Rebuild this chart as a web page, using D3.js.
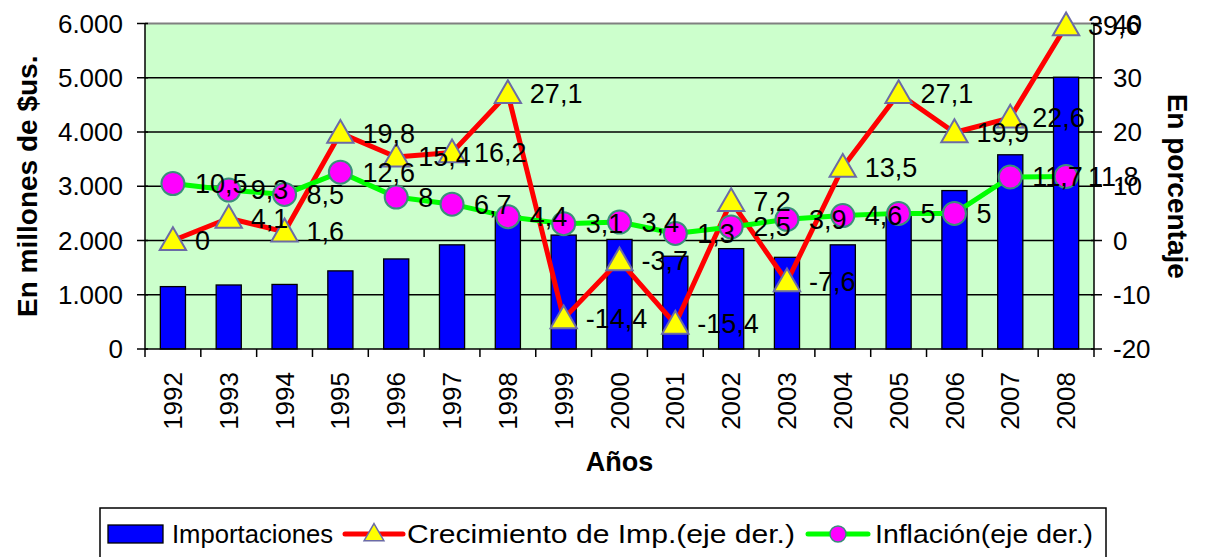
<!DOCTYPE html>
<html>
<head>
<meta charset="utf-8">
<script src="https://cdn.jsdelivr.net/npm/d3@7"></script>
<style>
  body { margin: 0; background: #fff; }
  svg { display: block; font-family: "Liberation Sans", Arial, sans-serif; }
</style>
</head>
<body>
<div id="vis"></div>
<script>
// chart data
const years = ["1992", "1993", "1994", "1995", "1996", "1997", "1998", "1999", "2000",
  "2001", "2002", "2003", "2004", "2005", "2006", "2007", "2008"];
const importaciones = [1150, 1180, 1190, 1440, 1660, 1920, 2450, 2100, 2020,
  1710, 1850, 1690, 1920, 2440, 2920, 3580, 5010];
const crecimiento = [0, 4.1, 1.6, 19.8, 15.4, 16.2, 27.1, -14.4, -3.7,
  -15.4, 7.2, -7.6, 13.5, 27.1, 19.9, 22.6, 39.6];
const inflacion = [10.5, 9.3, 8.5, 12.6, 8, 6.7, 4.4, 3.1, 3.4,
  1.3, 2.5, 3.9, 4.6, 5, 5, 11.7, 11.8];
const leftTicks = [0, 1000, 2000, 3000, 4000, 5000, 6000];
const rightTicks = [-20, -10, 0, 10, 20, 30, 40];
const legendNames = ["Importaciones", "Crecimiento de Imp.(eje der.)", "Inflación(eje der.)"];

const width = 1206, height = 557;
const plot = { left: 145, right: 1094, top: 23.5, bottom: 349 };

const es = d3.formatLocale({ decimal: ",", thousands: ".", grouping: [3], currency: ["$", ""] });
const fmtThousands = es.format(",d");
const fmtLabel = v => String(v).replace(".", ",");

const svg = d3.select("#vis").append("svg")
  .attr("width", width)
  .attr("height", height);

svg.append("rect").attr("width", width).attr("height", height).attr("fill", "#fff");

const x = d3.scaleBand().domain(years).range([plot.left, plot.right]).paddingInner(0).paddingOuter(0);
const yLeft = d3.scaleLinear().domain([0, 6000]).range([plot.bottom, plot.top]);
const yRight = d3.scaleLinear().domain([-20, 40]).range([plot.bottom, plot.top]);
const cx = d => x(d) + x.bandwidth() / 2;

// plot background
svg.append("rect")
  .attr("x", plot.left).attr("y", plot.top)
  .attr("width", plot.right - plot.left).attr("height", plot.bottom - plot.top)
  .attr("fill", "#CCFFCC");

// gridlines
svg.append("g").selectAll("line")
  .data(leftTicks.filter(t => t > 0 && t < 6000))
  .join("line")
  .attr("x1", plot.left).attr("x2", plot.right)
  .attr("y1", d => yLeft(d)).attr("y2", d => yLeft(d))
  .attr("stroke", "#000").attr("stroke-width", 1.3);

// top border
svg.append("line")
  .attr("x1", plot.left).attr("x2", plot.right)
  .attr("y1", plot.top).attr("y2", plot.top)
  .attr("stroke", "#808080").attr("stroke-width", 2);

// bars
const barW = x.bandwidth() * 0.45;
svg.append("g").selectAll("rect")
  .data(years)
  .join("rect")
  .attr("x", d => cx(d) - barW / 2)
  .attr("width", barW)
  .attr("y", (d, i) => yLeft(importaciones[i]))
  .attr("height", (d, i) => plot.bottom - yLeft(importaciones[i]))
  .attr("fill", "#0000FF")
  .attr("stroke", "#000").attr("stroke-width", 1.3);

// axes lines
const axisG = svg.append("g").attr("stroke", "#000").attr("stroke-width", 1.5);
axisG.append("line").attr("x1", plot.left).attr("x2", plot.left).attr("y1", plot.top).attr("y2", plot.bottom);
axisG.append("line").attr("x1", plot.right).attr("x2", plot.right).attr("y1", plot.top).attr("y2", plot.bottom);
axisG.append("line").attr("x1", plot.left).attr("x2", plot.right).attr("y1", plot.bottom).attr("y2", plot.bottom);

axisG.selectAll(".lt").data(leftTicks).join("line")
  .attr("x1", plot.left - 8).attr("x2", plot.left + 3)
  .attr("y1", d => yLeft(d)).attr("y2", d => yLeft(d));
axisG.selectAll(".rt").data(rightTicks).join("line")
  .attr("x1", plot.right - 3).attr("x2", plot.right + 8)
  .attr("y1", d => yRight(d)).attr("y2", d => yRight(d));
const bounds = years.map(d => x(d)).concat([plot.right]);
axisG.selectAll(".bt").data(bounds).join("line")
  .attr("x1", d => d).attr("x2", d => d)
  .attr("y1", plot.bottom).attr("y2", plot.bottom + 8);

// tick labels
svg.append("g").selectAll("text")
  .data(leftTicks).join("text")
  .attr("x", 123).attr("y", d => yLeft(d))
  .attr("dy", "0.35em").attr("text-anchor", "end")
  .attr("font-size", 26).text(d => fmtThousands(d));

svg.append("g").selectAll("text")
  .data(rightTicks).join("text")
  .attr("x", 1113).attr("y", d => yRight(d))
  .attr("dy", "0.35em").attr("text-anchor", "start")
  .attr("font-size", 26).text(d => d);

svg.append("g").selectAll("text")
  .data(years).join("text")
  .attr("transform", d => `translate(${cx(d)},372) rotate(-90)`)
  .attr("dy", "0.35em").attr("text-anchor", "end")
  .attr("font-size", 26).text(d => d);

// axis titles
svg.append("text")
  .attr("transform", `translate(27,${(plot.top + plot.bottom) / 2}) rotate(-90)`)
  .attr("dy", "0.35em").attr("text-anchor", "middle")
  .attr("font-size", 28).attr("font-weight", "bold")
  .text("En millones de $us.");

svg.append("text")
  .attr("transform", `translate(1178,${(plot.top + plot.bottom) / 2}) rotate(90)`)
  .attr("dy", "0.35em").attr("text-anchor", "middle")
  .attr("font-size", 28).attr("font-weight", "bold")
  .text("En porcentaje");

svg.append("text")
  .attr("x", (plot.left + plot.right) / 2).attr("y", 462)
  .attr("dy", "0.35em").attr("text-anchor", "middle")
  .attr("font-size", 27).attr("font-weight", "bold")
  .text("Años");

// lines
const triangle = d3.symbol().type(d3.symbolTriangle).size(300);

function drawLine(values, color) {
  svg.append("path")
    .datum(values)
    .attr("fill", "none")
    .attr("stroke", color)
    .attr("stroke-width", 5)
    .attr("stroke-linejoin", "round")
    .attr("d", d3.line().x((d, i) => cx(years[i])).y(d => yRight(d)));
}

drawLine(crecimiento, "#FF0000");
svg.append("g").selectAll("path")
  .data(crecimiento).join("path")
  .attr("transform", (d, i) => `translate(${cx(years[i])},${yRight(d) + 2})`)
  .attr("d", triangle)
  .attr("fill", "#FFFF00").attr("stroke", "#6B6BA6").attr("stroke-width", 2);

drawLine(inflacion, "#00FF00");
svg.append("g").selectAll("circle")
  .data(inflacion).join("circle")
  .attr("cx", (d, i) => cx(years[i]))
  .attr("cy", d => yRight(d))
  .attr("r", 11.5)
  .attr("fill", "#FF00FF").attr("stroke", "#3A8F7A").attr("stroke-width", 2);

// data labels
function drawLabels(values) {
  svg.append("g").selectAll("text")
    .data(values).join("text")
    .attr("x", (d, i) => cx(years[i]) + 22)
    .attr("y", d => yRight(d))
    .attr("dy", "0.35em")
    .attr("font-size", 27)
    .text(d => fmtLabel(d));
}
drawLabels(crecimiento);
drawLabels(inflacion);

// legend
const lg = svg.append("g");
lg.append("rect")
  .attr("x", 100).attr("y", 508).attr("width", 1006).attr("height", 70)
  .attr("fill", "#fff").attr("stroke", "#000").attr("stroke-width", 1.5);
const ly = 534;
lg.append("rect")
  .attr("x", 108).attr("y", ly - 9).attr("width", 55).attr("height", 18)
  .attr("fill", "#0000FF").attr("stroke", "#000").attr("stroke-width", 1.3);
lg.append("line")
  .attr("x1", 345).attr("x2", 403).attr("y1", ly).attr("y2", ly)
  .attr("stroke", "#FF0000").attr("stroke-width", 5).attr("stroke-linecap", "round");
lg.append("path")
  .attr("transform", `translate(374,${ly + 1})`)
  .attr("d", d3.symbol().type(d3.symbolTriangle).size(170))
  .attr("fill", "#FFFF00").attr("stroke", "#6B6BA6").attr("stroke-width", 1.5);
lg.append("line")
  .attr("x1", 808).attr("x2", 868).attr("y1", ly).attr("y2", ly)
  .attr("stroke", "#00FF00").attr("stroke-width", 5).attr("stroke-linecap", "round");
lg.append("circle")
  .attr("cx", 838).attr("cy", ly).attr("r", 8)
  .attr("fill", "#FF00FF").attr("stroke", "#3A8F7A").attr("stroke-width", 1.5);
lg.selectAll(".lt").data(legendNames).join("text")
  .attr("x", (d, i) => [172, 407, 875][i])
  .attr("y", ly).attr("dy", "0.35em")
  .attr("font-size", 26)
  .attr("textLength", (d, i) => [161, 388, 218][i])
  .attr("lengthAdjust", "spacingAndGlyphs")
  .text(d => d);
</script>
</body>
</html>
